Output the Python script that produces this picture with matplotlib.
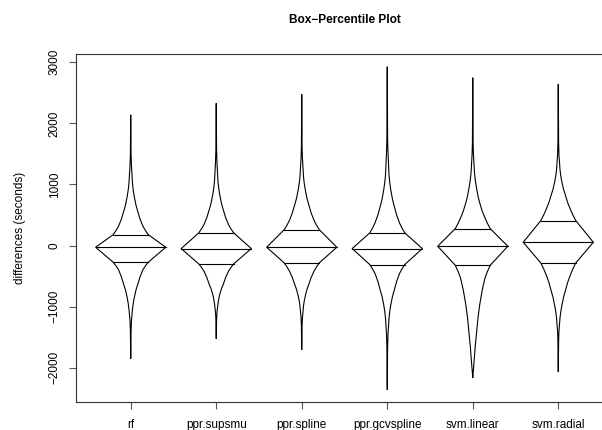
import numpy as np
import matplotlib
matplotlib.use("Agg")
import matplotlib.pyplot as plt

plt.rcParams["font.family"] = ["Liberation Sans", "DejaVu Sans"]

# Model names
models = ["rf", "ppr.supsmu", "ppr.spline", "ppr.gcvspline", "svm.linear", "svm.radial"]

# Percentile levels at which each distribution is summarised
probs = [0.0, 0.005, 0.01, 0.025, 0.035, 0.05, 0.075, 0.1, 0.135, 0.175, 0.21, 0.25, 0.5,
         0.75, 0.79, 0.825, 0.865, 0.9, 0.925, 0.95, 0.965, 0.975, 0.99, 0.995, 1.0]

# Quantiles of the differences (seconds) for each model, at the levels above
q_rf = [-1843, -1397, -1234, -1044, -952, -854, -726, -636, -505, -392, -331, -272, -27,
        179, 246, 315, 428, 560, 662, 805, 917, 1022, 1321, 1484, 2137]
q_supsmu = [-1517, -1207, -1098, -951, -877, -799, -704, -636, -519, -419, -358, -299, -49,
            207, 274, 343, 456, 587, 689, 832, 944, 1049, 1376, 1566, 2327]
q_spline = [-1697, -1316, -1180, -989, -910, -826, -715, -636, -519, -419, -350, -283, -27,
            261, 335, 413, 532, 669, 771, 914, 1026, 1131, 1430, 1593, 2474]
q_gcvspline = [-2349, -1680, -1462, -1190, -1084, -972, -829, -728, -582, -456, -382, -310, -49,
               207, 287, 370, 496, 642, 755, 914, 1039, 1158, 1539, 1756, 2925]
q_linear = [-2159, -2093, -2022, -1805, -1646, -1478, -1176, -962, -728, -527, -422, -321, -11,
            277, 362, 451, 564, 696, 809, 968, 1080, 1186, 1484, 1675, 2746]
q_radial = [-2061, -1560, -1397, -1180, -1087, -989, -846, -745, -599, -473, -376, -283, 54,
            408, 496, 587, 700, 832, 922, 1049, 1147, 1240, 1484, 1675, 2638]

quantiles = [q_rf, q_supsmu, q_spline, q_gcvspline, q_linear, q_radial]

yticks = [-2000, -1000, 0, 1000, 2000, 3000]

fig = plt.figure(figsize=(6.02, 4.30), dpi=100)
# plot region; right edge runs past the canvas
ax = fig.add_axes([76 / 602, 28 / 430, 537 / 602, 348 / 430])

p = np.array(probs)
half = 0.82 * np.minimum(p, 1 - p)
lw = 0.8

for i, q in enumerate(quantiles, start=1):
    q = np.array(q, dtype=float)
    xs = np.concatenate([i - half, (i + half)[::-1]])
    ys = np.concatenate([q, q[::-1]])
    ax.plot(xs, ys, color="black", lw=lw, solid_joinstyle="round")
    for lev in (0.25, 0.5, 0.75):
        k = probs.index(lev)
        ax.plot([i - half[k], i + half[k]], [q[k], q[k]], color="black", lw=lw)

allv = np.concatenate([np.array(q) for q in quantiles])
lo, hi = allv.min(), allv.max()
pad = 0.04 * (hi - lo)
ax.set_ylim(lo - pad, hi + pad)
ax.set_xlim(0.36, 6.64)

ax.set_xticks(range(1, len(models) + 1))
ax.set_xticklabels(models, fontsize=8.5)
ax.set_yticks(yticks)
ax.set_yticklabels([str(t).replace("-", "\u2212") for t in yticks],
                   rotation=90, va="center", fontsize=8.5)
ax.tick_params(axis="both", direction="out", length=5, width=0.8, color="#555555")
ax.tick_params(axis="x", pad=7)
ax.tick_params(axis="y", pad=6)
for s in ax.spines.values():
    s.set_linewidth(0.8)
    s.set_color("#333333")

ax.set_ylabel("differences (seconds)", fontsize=8.5, labelpad=16)
ax.set_title("Box\u2212Percentile Plot", fontsize=8.6, fontweight="bold", pad=22)

fig.savefig("out.png", dpi=100)
